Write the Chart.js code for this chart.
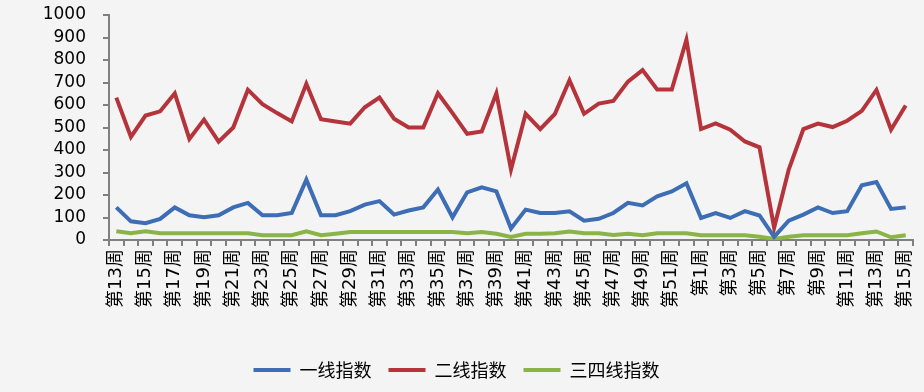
<!DOCTYPE html>
<html>
<head>
<meta charset="utf-8">
<script src="https://cdn.jsdelivr.net/npm/chart.js@4/dist/chart.umd.min.js"></script>
<style>
  html, body { margin: 0; padding: 0; background: #f4f4f4; }
  #wrap { width: 924px; height: 392px; position: relative; }
</style>
</head>
<body>
<div id="wrap"><canvas id="chart"></canvas></div>
<script>
// week labels: 13..52, then 1..15 of next year
const weeks = [];
for (let w = 13; w <= 52; w++) weeks.push('第' + w + '周');
for (let w = 1; w <= 15; w++) weeks.push('第' + w + '周');

const tier1 = [145, 83, 75, 94, 145, 110, 101, 110, 145, 165,
               110, 110, 120, 268, 110, 110, 128, 157, 173, 113,
               131, 145, 224, 101, 212, 234, 216, 51, 135, 120,
               120, 128, 86, 94, 120, 165, 154, 194, 216, 252,
               98, 120, 98, 128, 109, 14, 86, 113, 145, 120,
               128, 243, 258, 138, 145];

const tier2 = [633, 458, 553, 572, 652, 449, 535, 437, 500, 668,
               604, 564, 527, 694, 537, 527, 517, 590, 633, 539,
               500, 500, 652, 564, 472, 482, 652, 313, 561, 493,
               560, 710, 561, 606, 618, 704, 755, 669, 669, 890,
               493, 518, 490, 438, 412, 54, 313, 493, 517, 502,
               530, 574, 667, 490, 598];

const tier34 = [39, 30, 39, 30, 30, 30, 30, 30, 30, 30,
                21, 21, 21, 39, 21, 28, 36, 36, 36, 36,
                36, 36, 36, 36, 30, 36, 28, 14, 28, 28,
                30, 38, 30, 30, 22, 28, 21, 30, 30, 30,
                21, 21, 21, 21, 14, 5, 14, 21, 21, 21,
                21, 30, 38, 12, 21];

const seriesNames = ['一线指数', '二线指数', '三四线指数'];
const seriesColors = ['#3d6db4', '#b5343b', '#8ab446'];

const axisGray = '#808080';

new Chart(document.getElementById('chart'), {
    type: 'line',
    data: {
        labels: weeks,
        datasets: [tier1, tier2, tier34].map((vals, i) => ({
            label: seriesNames[i],
            data: vals,
            borderColor: seriesColors[i],
            backgroundColor: seriesColors[i],
            borderWidth: 4,
            pointRadius: 0,
            tension: 0
        }))
    },
    options: {
        responsive: true,
        maintainAspectRatio: false,
        animation: false,
        layout: {
            padding: { top: 15, right: 11, left: 0, bottom: 3 }
        },
        scales: {
            x: {
                offset: true,
                grid: {
                    offset: true,
                    drawOnChartArea: false,
                    drawTicks: true,
                    tickLength: 6,
                    color: axisGray,
                    lineWidth: 2
                },
                border: { color: axisGray, width: 2 },
                ticks: {
                    autoSkip: false,
                    minRotation: 90,
                    maxRotation: 90,
                    padding: 3,
                    color: '#000000',
                    font: { family: "'DejaVu Sans', 'Noto Sans CJK SC'", size: 18 },
                    callback: function (val, idx) {
                        return idx % 2 === 0 ? this.getLabelForValue(val) : '';
                    }
                },
                afterFit: function (scale) {
                    scale.height = 104; // room between axis and legend
                    scale.paddingLeft = 0;
                    scale.paddingRight = 0;
                }
            },
            y: {
                min: 0,
                max: 1000,
                grid: {
                    drawOnChartArea: false,
                    drawTicks: true,
                    tickLength: 6,
                    color: axisGray,
                    lineWidth: 2
                },
                border: { color: axisGray, width: 2 },
                ticks: {
                    stepSize: 100,
                    autoSkip: false,
                    padding: 17,
                    color: '#000000',
                    font: { family: "'DejaVu Sans'", size: 17 },
                    callback: v => String(v)
                },
                afterFit: function (scale) {
                    scale.width = 109;
                    scale.paddingTop = 0;
                    scale.paddingBottom = 0;
                }
            }
        },
        plugins: {
            legend: {
                display: true,
                position: 'bottom',
                labels: {
                    boxWidth: 37,
                    boxHeight: 4,
                    padding: 17,
                    color: '#000000',
                    font: { family: "'Noto Sans CJK SC'", size: 18 },
                    generateLabels: function (chart) {
                        const items = Chart.defaults.plugins.legend.labels.generateLabels(chart);
                        items.forEach(it => { it.lineWidth = 0; });
                        return items;
                    }
                }
            },
            tooltip: { enabled: false }
        }
    }
});
</script>
</body>
</html>
